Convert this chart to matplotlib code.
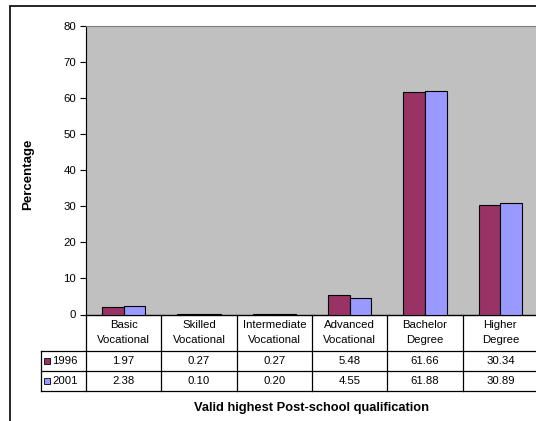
import matplotlib
matplotlib.use("Agg")
import matplotlib.pyplot as plt
from matplotlib.patches import Rectangle
import numpy as np

plt.rcParams['font.family'] = ['Liberation Sans', 'DejaVu Sans']

categories = ["Basic\nVocational", "Skilled\nVocational", "Intermediate\nVocational",
              "Advanced\nVocational", "Bachelor\nDegree", "Higher\nDegree"]
series_names = ["1996", "2001"]
values_1996 = [1.97, 0.27, 0.27, 5.48, 61.66, 30.34]
values_2001 = [2.38, 0.10, 0.20, 4.55, 61.88, 30.89]
labels_1996 = ["1.97", "0.27", "0.27", "5.48", "61.66", "30.34"]
labels_2001 = ["2.38", "0.10", "0.20", "4.55", "61.88", "30.89"]
yticks = [0, 10, 20, 30, 40, 50, 60, 70, 80]

colors = ["#993366", "#9999FF"]

W, H = 536, 421
fig = plt.figure(figsize=(W / 100, H / 100), dpi=100)

left_px, right_px, top_px, bot_px = 86, 538, 26, 314.5
ax = fig.add_axes([left_px / W, 1 - bot_px / H, (right_px - left_px) / W, (bot_px - top_px) / H])
ax.set_facecolor("#C0C0C0")

FS = 8.2

x = np.arange(len(categories))
bw = 0.2857
ax.bar(x - bw / 2, values_1996, bw, color=colors[0], edgecolor="black", linewidth=0.8, zorder=3)
ax.bar(x + bw / 2, values_2001, bw, color=colors[1], edgecolor="black", linewidth=0.8, zorder=3)

ax.set_xlim(-0.5, len(categories) - 0.5)
ax.set_ylim(0, 80)
ax.set_yticks(yticks)
ax.set_yticklabels([str(t) for t in yticks], fontsize=FS)
ax.set_xticks([])
ax.tick_params(axis='y', length=4, width=0.8, pad=3, direction='out')
for s in ["top", "right"]:
    ax.spines[s].set_visible(False)
ax.spines["left"].set_color("#808080")
ax.spines["left"].set_linewidth(0.8)
ax.spines["bottom"].set_linewidth(1.0)
ax.plot([-0.5, -0.5], [0, 80], color="black", lw=0.8, clip_on=False, zorder=4)
ax.plot([-0.5, 5.5], [80, 80], color="#808080", lw=0.8, clip_on=False, zorder=4)

# Data table below the axis
trans = ax.get_xaxis_transform()
ax_h = bot_px - top_px
def ay(py):
    return -(py - bot_px) / ax_h

y_head = ay(350.7)
y_r1 = ay(371)
y_r2 = ay(390.7)
unit_px = (right_px - left_px) / 6
x_tab_left = (41 - left_px) / unit_px - 0.5

lk = dict(color="black", lw=0.9, transform=trans, clip_on=False)
for b in np.arange(len(categories) + 1) - 0.5:
    ax.plot([b, b], [0, y_r2], **lk)
ax.plot([x_tab_left, x_tab_left], [y_head, y_r2], **lk)
for yy in [y_head, y_r1, y_r2]:
    ax.plot([x_tab_left, 5.5], [yy, yy], **lk)

for i, c in enumerate(categories):
    ax.text(x[i], (0 + y_head) / 2, c, transform=trans, ha="center", va="center",
            fontsize=FS, linespacing=1.6)
    ax.text(x[i], (y_head + y_r1) / 2, labels_1996[i], transform=trans, ha="center",
            va="center", fontsize=FS)
    ax.text(x[i], (y_r1 + y_r2) / 2, labels_2001[i], transform=trans, ha="center",
            va="center", fontsize=FS)

key_x = (44 - left_px) / unit_px - 0.5
key_w = 6 / unit_px
key_h = 6 / ax_h
for yy0, yy1, col, name in [(y_head, y_r1, colors[0], series_names[0]),
                            (y_r1, y_r2, colors[1], series_names[1])]:
    ym = (yy0 + yy1) / 2
    ax.add_patch(Rectangle((key_x, ym - key_h / 2), key_w, key_h, transform=trans,
                           facecolor=col, edgecolor="black", lw=0.6, clip_on=False))
    ax.text((52 - left_px) / unit_px - 0.5, ym, name, transform=trans, ha="left",
            va="center", fontsize=FS)

fig.text((left_px + right_px) / 2 / W, 1 - 408 / H, "Valid highest Post-school qualification",
         ha="center", va="center", fontsize=9.3, fontweight="bold")
fig.text(28 / W, 1 - 174 / H, "Percentage", rotation=90, ha="center", va="center",
         fontsize=9.5, fontweight="bold")

# outer chart frame
fig.patches.append(Rectangle((9.5 / W, -0.1), 1.2, 1 - 5.5 / H + 0.1, transform=fig.transFigure,
                             facecolor="none", edgecolor="black", lw=1.2))

fig.savefig("out.png", dpi=100)
